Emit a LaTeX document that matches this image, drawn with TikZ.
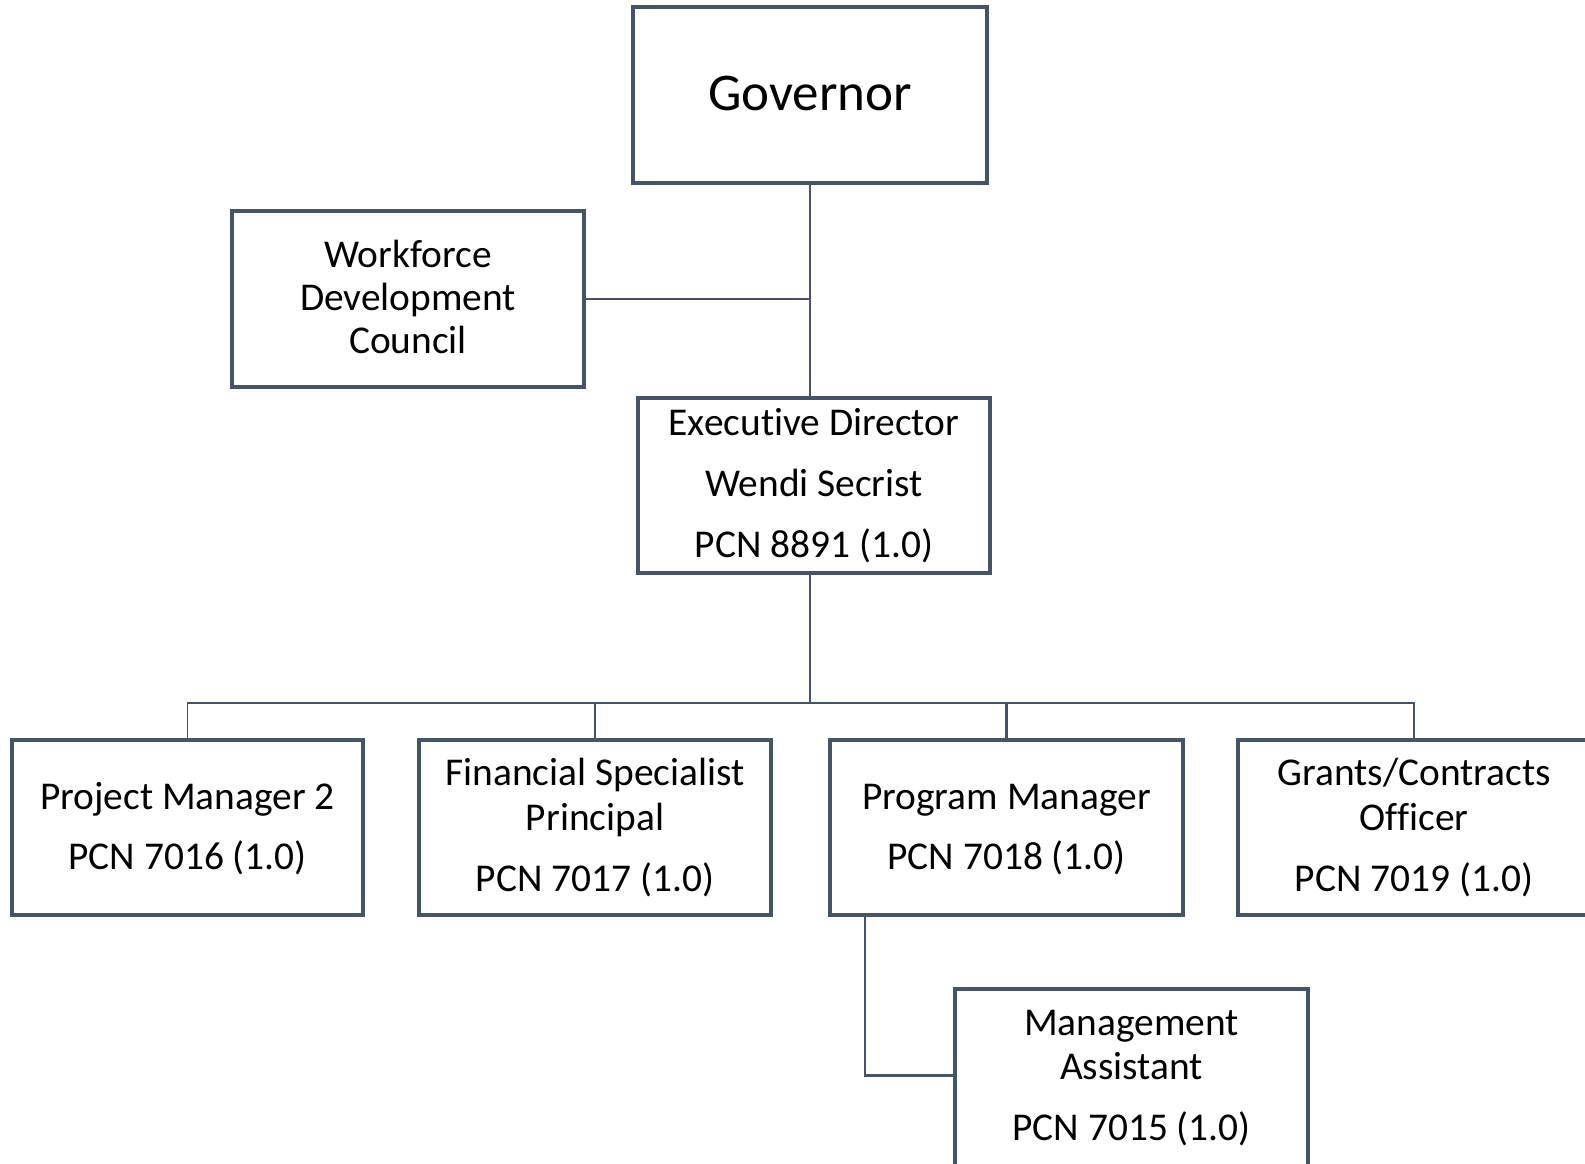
\documentclass[tikz,border=0pt]{standalone}
\usepackage{fontspec}
\setmainfont{Carlito}[Ligatures=NoCommon]
\definecolor{edge}{HTML}{44546A}
\begin{document}
\begin{tikzpicture}[x=0.5pt,y=-0.5pt,
  box/.style={draw=edge, line width=1.9pt, fill=white, inner sep=0pt, rectangle},
  wire/.style={draw=edge, line width=1.4pt},
  thinwire/.style={draw=edge, line width=0.9pt},
  lbl/.style={anchor=base, inner sep=0pt, font=\fontsize{19.7}{23}\selectfont},
  biglbl/.style={anchor=base, inner sep=0pt, font=\fontsize{26.5}{31}\selectfont}]
\clip (0,0) rectangle (1585,1163);
\fill[white] (0,0) rectangle (1585,1163);

% boxes
\node[box, minimum width=177pt, minimum height=88pt]   (gov)  at (810,95)     {};
\node[box, minimum width=176pt, minimum height=88pt]   (wdc)  at (408,299)    {};
\node[box, minimum width=176pt, minimum height=87.5pt] (exec) at (814,485.5)  {};
\node[box, minimum width=175.5pt, minimum height=87.5pt] (pm2) at (187.5,827.5) {};
\node[box, minimum width=176pt, minimum height=87.5pt] (fsp)  at (595,827.5)  {};
\node[box, minimum width=176.5pt, minimum height=87.5pt] (pgm) at (1006.5,827.5) {};
\node[box, minimum width=176pt, minimum height=87.5pt] (gco)  at (1414,827.5) {};
\node[box, minimum width=176.5pt, minimum height=95pt] (ma)   at (1131.5,1084) {};

% connectors
\coordinate (trunk) at (810,703);
\coordinate (tap) at (865,915);
\path (ma.north west) ++(0,88) coordinate (maport);
\draw[wire] (gov.south) -- (gov.south |- exec.north);
\draw[wire] (wdc.east) -- (wdc.east -| gov.south);
\draw[wire] (gov.south |- exec.south) -- (trunk);
\draw[wire] (trunk) -- (gco.north |- trunk) -- (gco.north);
\draw[wire] (trunk) -- (fsp.north |- trunk);
\draw[wire] (pgm.north |- trunk) -- (pgm.north);
\draw[thinwire] (fsp.north |- trunk) -- (fsp.north);
\draw[thinwire] (fsp.north |- trunk) -- (pm2.north |- trunk) -- (pm2.north);
\draw[wire] (tap) |- (maport);

% labels
\node[biglbl] (govt) at (810,110) {Governor};

\node[lbl] (wdc1) at (408,267) {Workforce};
\node[lbl] (wdc2) at (408,310) {Development};
\node[lbl] (wdc3) at (408,353) {Council};

\node[lbl] (exec1) at (814,435) {Executive Director};
\node[lbl] (exec2) at (814,496) {Wendi Secrist};
\node[lbl] (exec3) at (814,557) {PCN 8891 (1.0)};

\node[lbl] (pm21) at (187.5,809) {Project Manager 2};
\node[lbl] (pm22) at (187.5,869) {PCN 7016 (1.0)};

\node[lbl] (fsp1) at (595,785) {Financial Specialist};
\node[lbl] (fsp2) at (595,830) {Principal};
\node[lbl] (fsp3) at (595,891) {PCN 7017 (1.0)};

\node[lbl] (pgm1) at (1006.5,809) {Program Manager};
\node[lbl] (pgm2) at (1006.5,869) {PCN 7018 (1.0)};

\node[lbl] (gco1) at (1414,785) {Grants/Contracts};
\node[lbl] (gco2) at (1414,830) {Officer};
\node[lbl] (gco3) at (1414,891) {PCN 7019 (1.0)};

\node[lbl] (ma1) at (1131.5,1035) {Management};
\node[lbl] (ma2) at (1131.5,1079) {Assistant};
\node[lbl] (ma3) at (1131.5,1140) {PCN 7015 (1.0)};
\end{tikzpicture}
\end{document}
